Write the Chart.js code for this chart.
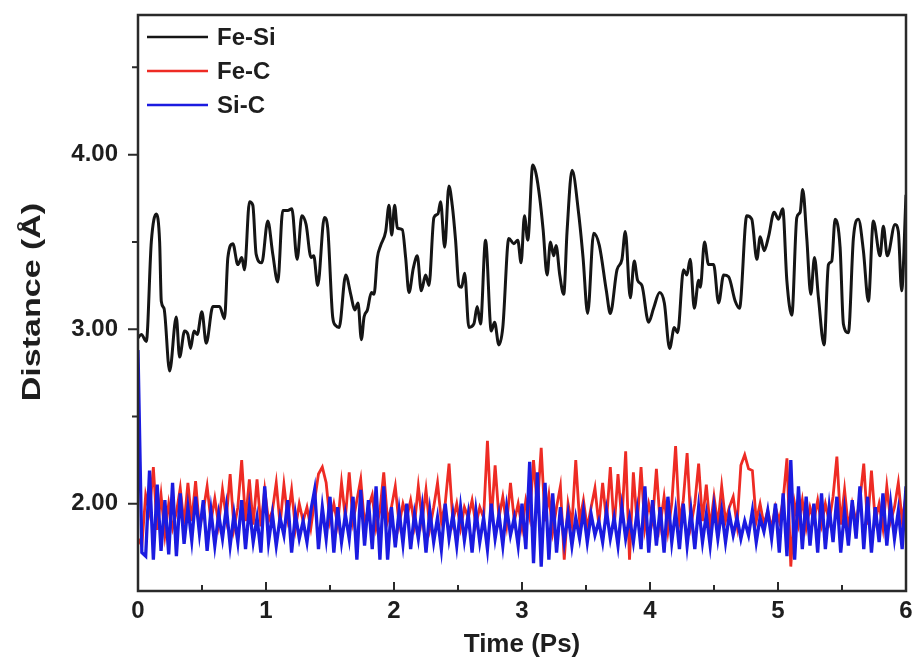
<!DOCTYPE html>
<html>
<head>
<meta charset="utf-8">
<title>Bond distances</title>
<script src="https://cdn.jsdelivr.net/npm/chart.js@4.4.1/dist/chart.umd.min.js"></script>
<style>
  html, body { margin: 0; padding: 0; background: #fff; }
</style>
</head>
<body>
<canvas id="distChart" width="912" height="663"></canvas>
<script>
// Fe-Si distance (ps, angstrom)
var feSiTime = [
  0.000, 0.026, 0.065, 0.104, 0.143, 0.169, 0.182, 0.203, 0.247, 0.299,
  0.325, 0.364, 0.390, 0.411, 0.437, 0.463, 0.499, 0.533, 0.585, 0.637,
  0.676, 0.702, 0.741, 0.780, 0.811, 0.832, 0.871, 0.897, 0.923, 0.967,
  1.014, 1.053, 1.092, 1.131, 1.170, 1.202, 1.243, 1.280, 1.313, 1.352,
  1.373, 1.404, 1.456, 1.482, 1.521, 1.545, 1.571, 1.623, 1.662, 1.693,
  1.719, 1.745, 1.766, 1.792, 1.823, 1.844, 1.870, 1.896, 1.935, 1.961,
  1.982, 2.005, 2.026, 2.065, 2.091, 2.117, 2.151, 2.182, 2.213, 2.247,
  2.273, 2.312, 2.343, 2.364, 2.396, 2.429, 2.455, 2.481, 2.507, 2.528,
  2.552, 2.585, 2.624, 2.650, 2.676, 2.715, 2.760, 2.786, 2.819, 2.850,
  2.897, 2.936, 2.967, 2.993, 3.019, 3.045, 3.084, 3.110, 3.139, 3.165,
  3.196, 3.222, 3.248, 3.266, 3.295, 3.326, 3.352, 3.391, 3.443, 3.477,
  3.513, 3.560, 3.604, 3.659, 3.690, 3.742, 3.781, 3.807, 3.846, 3.877,
  3.903, 3.937, 3.989, 4.028, 4.075, 4.112, 4.153, 4.190, 4.216, 4.262,
  4.288, 4.314, 4.346, 4.380, 4.393, 4.426, 4.457, 4.497, 4.536, 4.575,
  4.614, 4.666, 4.699, 4.756, 4.795, 4.835, 4.861, 4.892, 4.926, 4.970,
  5.004, 5.037, 5.069, 5.108, 5.147, 5.173, 5.193, 5.225, 5.256, 5.285,
  5.316, 5.360, 5.394, 5.420, 5.446, 5.485, 5.511, 5.550, 5.589, 5.628,
  5.667, 5.706, 5.745, 5.797, 5.823, 5.854, 5.914, 5.940, 5.966, 6.000
];
var feSiDist = [
  2.95, 2.97, 2.93, 3.50, 3.66, 3.50, 3.16, 3.12, 2.76, 3.07,
  2.84, 2.99, 2.97, 2.89, 2.99, 2.97, 3.10, 2.92, 3.13, 3.13,
  3.06, 3.41, 3.49, 3.37, 3.41, 3.34, 3.73, 3.71, 3.43, 3.38,
  3.62, 3.43, 3.27, 3.68, 3.68, 3.69, 3.40, 3.65, 3.60, 3.41,
  3.42, 3.25, 3.64, 3.58, 3.07, 3.02, 3.01, 3.31, 3.20, 3.11,
  3.15, 2.94, 3.07, 3.11, 3.21, 3.20, 3.41, 3.48, 3.56, 3.71,
  3.54, 3.71, 3.58, 3.57, 3.41, 3.21, 3.35, 3.42, 3.22, 3.31,
  3.25, 3.64, 3.66, 3.73, 3.47, 3.82, 3.71, 3.51, 3.25, 3.24,
  3.32, 3.01, 3.03, 3.13, 3.03, 3.51, 2.99, 3.04, 2.91, 3.01,
  3.52, 3.49, 3.51, 3.38, 3.65, 3.51, 3.94, 3.89, 3.75, 3.57,
  3.31, 3.50, 3.42, 3.48, 3.31, 3.20, 3.56, 3.91, 3.66, 3.41,
  3.09, 3.55, 3.48, 3.22, 3.09, 3.34, 3.40, 3.56, 3.18, 3.39,
  3.28, 3.25, 3.04, 3.12, 3.21, 3.15, 2.89, 3.01, 2.98, 3.34,
  3.31, 3.40, 3.12, 3.28, 3.24, 3.50, 3.37, 3.37, 3.15, 3.31,
  3.30, 3.16, 3.12, 3.65, 3.63, 3.40, 3.53, 3.45, 3.53, 3.67,
  3.63, 3.69, 3.28, 3.08, 3.64, 3.67, 3.80, 3.52, 3.20, 3.41,
  3.18, 2.91, 3.37, 3.39, 3.63, 3.47, 3.03, 2.98, 3.52, 3.63,
  3.45, 3.16, 3.62, 3.42, 3.59, 3.42, 3.60, 3.56, 3.22, 3.77
];

// Fe-C and Si-C frames share one time base
var bondTime = [
  0.00, 0.03, 0.06, 0.09, 0.12, 0.15, 0.18, 0.21, 0.24, 0.27,
  0.30, 0.33, 0.36, 0.39, 0.42, 0.45, 0.48, 0.51, 0.54, 0.57,
  0.60, 0.63, 0.66, 0.69, 0.72, 0.75, 0.78, 0.81, 0.84, 0.87,
  0.90, 0.93, 0.96, 0.99, 1.02, 1.05, 1.08, 1.11, 1.14, 1.17,
  1.20, 1.23, 1.26, 1.29, 1.32, 1.35, 1.38, 1.41, 1.44, 1.47,
  1.50, 1.53, 1.56, 1.59, 1.62, 1.65, 1.68, 1.71, 1.74, 1.77,
  1.80, 1.83, 1.86, 1.89, 1.92, 1.95, 1.98, 2.01, 2.04, 2.07,
  2.10, 2.13, 2.16, 2.19, 2.22, 2.25, 2.28, 2.31, 2.34, 2.37,
  2.40, 2.43, 2.46, 2.49, 2.52, 2.55, 2.58, 2.61, 2.64, 2.67,
  2.70, 2.73, 2.76, 2.79, 2.82, 2.85, 2.88, 2.91, 2.94, 2.97,
  3.00, 3.03, 3.06, 3.09, 3.12, 3.15, 3.18, 3.21, 3.24, 3.27,
  3.30, 3.33, 3.36, 3.39, 3.42, 3.45, 3.48, 3.51, 3.54, 3.57,
  3.60, 3.63, 3.66, 3.69, 3.72, 3.75, 3.78, 3.81, 3.84, 3.87,
  3.90, 3.93, 3.96, 3.99, 4.02, 4.05, 4.08, 4.11, 4.14, 4.17,
  4.20, 4.23, 4.26, 4.29, 4.32, 4.35, 4.38, 4.41, 4.44, 4.47,
  4.50, 4.53, 4.56, 4.59, 4.62, 4.65, 4.68, 4.71, 4.74, 4.77,
  4.80, 4.83, 4.86, 4.89, 4.92, 4.95, 4.98, 5.01, 5.04, 5.07,
  5.10, 5.13, 5.16, 5.19, 5.22, 5.25, 5.28, 5.31, 5.34, 5.37,
  5.40, 5.43, 5.46, 5.49, 5.52, 5.55, 5.58, 5.61, 5.64, 5.67,
  5.70, 5.73, 5.76, 5.79, 5.82, 5.85, 5.88, 5.91, 5.94, 5.97,
  6.00
];
var feCDist = [
  1.80, 1.76, 2.05, 1.95, 2.21, 1.85, 2.05, 1.82, 2.00, 1.86,
  1.95, 2.09, 1.88, 2.12, 1.90, 2.13, 1.86, 1.96, 2.10, 1.90,
  2.03, 1.88, 2.08, 1.92, 2.17, 1.86, 1.98, 2.25, 1.90, 2.14,
  1.88, 2.14, 1.87, 2.08, 1.90, 1.96, 2.12, 1.88, 2.11, 1.92,
  2.08, 1.86, 2.00, 1.90, 1.98, 1.86, 2.02, 2.17, 2.21, 2.12,
  1.90, 2.00, 1.88, 2.12, 1.92, 2.18, 1.90, 2.02, 2.14, 1.88,
  1.98, 2.05, 1.86, 1.96, 2.18, 1.90, 1.98, 2.10, 1.88, 2.00,
  1.92, 2.02, 1.88, 2.10, 1.90, 2.08, 1.86, 1.98, 2.12, 1.90,
  2.00, 2.23, 1.90, 2.00, 1.86, 1.98, 1.92, 2.02, 1.88, 1.98,
  1.92, 2.36, 1.90, 2.22, 1.92, 2.04, 1.88, 2.12, 1.90, 2.00,
  1.86, 2.02, 1.92, 2.25, 1.98, 2.32, 1.90, 2.05, 1.84, 1.98,
  2.10, 1.68, 2.00, 1.88, 2.25, 1.90, 2.02, 1.86, 1.98, 2.09,
  1.88, 2.12, 1.90, 2.21, 1.86, 2.17, 1.90, 2.30, 1.68, 2.18,
  1.88, 2.21, 1.86, 2.00, 1.90, 2.20, 1.88, 2.04, 1.84, 2.00,
  2.33, 1.90, 2.02, 2.29, 1.88, 2.00, 2.23, 1.90, 2.11, 1.86,
  2.04, 1.88, 2.10, 1.90, 1.98, 2.04, 1.88, 2.22, 2.28, 2.20,
  2.19, 1.90, 2.00, 1.88, 1.96, 1.86, 1.98, 1.90, 2.02, 2.26,
  1.64, 2.00, 1.88, 2.02, 1.86, 1.98, 1.90, 2.02, 1.88, 2.00,
  1.90, 2.04, 2.27, 1.88, 2.08, 1.86, 2.00, 1.90, 2.02, 2.23,
  1.88, 2.19, 1.90, 2.00, 1.86, 2.10, 1.90, 1.98, 2.12, 1.90,
  2.05
];
var siCDist = [
  2.88, 1.72, 1.70, 2.19, 1.68, 2.11, 1.73, 2.02, 1.71, 2.12,
  1.70, 2.06, 1.77, 1.98, 1.79, 2.04, 1.83, 2.02, 1.73, 1.96,
  1.76, 1.94, 1.80, 1.98, 1.76, 1.94, 1.78, 2.02, 1.74, 1.98,
  1.78, 1.92, 1.72, 2.10, 1.78, 1.94, 1.76, 1.92, 1.82, 2.02,
  1.72, 1.94, 1.80, 1.90, 1.78, 1.96, 2.08, 1.74, 1.98, 1.80,
  2.04, 1.72, 1.98, 1.78, 1.94, 1.80, 2.04, 1.68, 2.08, 1.76,
  2.02, 1.74, 2.10, 1.68, 2.10, 1.68, 1.98, 1.75, 1.96, 1.77,
  2.00, 1.74, 1.94, 1.80, 1.98, 1.72, 1.96, 1.78, 1.92, 1.74,
  2.00, 1.80, 1.94, 1.76, 1.98, 1.79, 1.94, 1.72, 1.96, 1.78,
  1.92, 1.74, 2.00, 1.80, 1.94, 1.76, 1.98, 1.82, 1.92, 1.76,
  2.00, 1.74, 2.24, 1.66, 2.18, 1.64, 2.12, 1.68, 2.06, 1.72,
  1.98, 1.78, 1.94, 1.76, 1.92, 1.80, 1.96, 1.78, 1.94, 1.82,
  1.90, 1.78, 1.96, 1.80, 1.92, 1.76, 1.98, 1.80, 1.92, 1.78,
  1.96, 1.74, 2.10, 1.72, 2.02, 1.76, 1.98, 1.72, 2.04, 1.78,
  1.96, 1.74, 2.00, 1.76, 1.96, 1.74, 1.98, 1.78, 1.94, 1.76,
  1.98, 1.80, 1.96, 1.78, 1.94, 1.82, 1.92, 1.80, 1.90, 1.82,
  1.96, 1.78, 1.92, 1.84, 1.96, 1.80, 2.00, 1.72, 2.06, 1.70,
  2.25, 1.68, 2.10, 1.74, 2.04, 1.76, 2.00, 1.72, 2.06, 1.74,
  1.98, 1.78, 2.04, 1.72, 1.96, 1.76, 2.02, 1.80, 2.10, 1.74,
  2.04, 1.72, 1.98, 1.78, 2.06, 1.76, 2.00, 1.80, 1.96, 1.74,
  2.10
];

var xMajorTicks = [0, 1, 2, 3, 4, 5, 6];
var xMinorTicks = [0.5, 1.5, 2.5, 3.5, 4.5, 5.5];
var yMajorTicks = [2, 3, 4];
var yMinorTicks = [2.5, 3.5, 4.5];

var fontFam = "'Liberation Sans', Arial, sans-serif";
var axisColor = '#2a2a2a';
var textColor = '#1e1e1e';

function toPoints(xs, ys) {
  var pts = [];
  for (var i = 0; i < xs.length; i++) pts.push({ x: xs[i], y: ys[i] });
  return pts;
}

// box, tick marks, legend and axis titles
var decorPlugin = {
  id: 'decor',
  afterDatasetsDraw: function (chart) {
    var ctx = chart.ctx, a = chart.chartArea;
    var xs = chart.scales.x, ys = chart.scales.y;
    ctx.save();

    ctx.strokeStyle = axisColor;
    ctx.lineWidth = 2;
    ctx.beginPath();
    xMajorTicks.forEach(function (v) {
      var p = xs.getPixelForValue(v);
      ctx.moveTo(p, a.bottom); ctx.lineTo(p, a.bottom - 9);
    });
    xMinorTicks.forEach(function (v) {
      var p = xs.getPixelForValue(v);
      ctx.moveTo(p, a.bottom); ctx.lineTo(p, a.bottom - 6);
    });
    yMajorTicks.forEach(function (v) {
      var p = ys.getPixelForValue(v);
      ctx.moveTo(a.left, p); ctx.lineTo(a.left - 10, p);
    });
    yMinorTicks.forEach(function (v) {
      var p = ys.getPixelForValue(v);
      ctx.moveTo(a.left, p); ctx.lineTo(a.left - 6, p);
    });
    ctx.stroke();

    ctx.lineWidth = 2.5;
    ctx.strokeRect(a.left, a.top, a.right - a.left, a.bottom - a.top);

    // legend in the upper left corner
    ctx.font = 'bold 24px ' + fontFam;
    ctx.textBaseline = 'middle';
    ctx.textAlign = 'left';
    chart.data.datasets.forEach(function (ds, k) {
      var ly = a.top + 22 + k * 34;
      ctx.strokeStyle = ds.borderColor;
      ctx.lineWidth = 2.5;
      ctx.beginPath();
      ctx.moveTo(a.left + 9, ly); ctx.lineTo(a.left + 70, ly);
      ctx.stroke();
      ctx.fillStyle = textColor;
      ctx.fillText(ds.label, a.left + 79, ly + 1);
    });

    // axis titles
    ctx.fillStyle = textColor;
    ctx.textAlign = 'center';
    ctx.font = 'bold 26px ' + fontFam;
    ctx.fillText('Time (Ps)', (a.left + a.right) / 2, 645);

    ctx.font = 'bold 25px ' + fontFam;
    ctx.translate(33, 302);
    ctx.rotate(-Math.PI / 2);
    ctx.scale(1.36, 1);
    ctx.fillText('Distance (Å)', 0, 0);
    ctx.restore();
  }
};

new Chart(document.getElementById('distChart').getContext('2d'), {
  type: 'line',
  data: {
    datasets: [
      {
        label: 'Fe-Si',
        data: toPoints(feSiTime, feSiDist),
        borderColor: '#151515',
        borderWidth: 3,
        cubicInterpolationMode: 'monotone',
        order: 0
      },
      {
        label: 'Fe-C',
        data: toPoints(bondTime, feCDist),
        borderColor: '#ee2b24',
        borderWidth: 2.8,
        tension: 0,
        order: 2
      },
      {
        label: 'Si-C',
        data: toPoints(bondTime, siCDist),
        borderColor: '#1b1be0',
        borderWidth: 3.3,
        tension: 0,
        order: 1
      }
    ]
  },
  options: {
    responsive: false,
    animation: false,
    layout: { padding: { left: 0, right: 6, top: 15, bottom: 0 } },
    elements: { point: { radius: 0 } },
    plugins: {
      legend: { display: false },
      tooltip: { enabled: false }
    },
    scales: {
      x: {
        type: 'linear',
        min: 0,
        max: 6,
        afterBuildTicks: function (s) {
          s.ticks = xMajorTicks.map(function (v) { return { value: v }; });
        },
        afterFit: function (s) {
          s.height = 72;
          s.paddingLeft = 0;
          s.paddingRight = 0;
        },
        grid: { display: false, drawTicks: false },
        border: { display: false },
        ticks: {
          padding: 6,
          maxRotation: 0,
          color: textColor,
          font: { family: fontFam, size: 24, weight: 'bold' },
          callback: function (v) { return String(v); }
        }
      },
      y: {
        min: 1.5,
        max: 4.8,
        afterBuildTicks: function (s) {
          s.ticks = yMajorTicks.map(function (v) { return { value: v }; });
        },
        afterFit: function (s) {
          s.width = 138;
          s.paddingTop = 0;
          s.paddingBottom = 0;
        },
        grid: { display: false, drawTicks: false },
        border: { display: false },
        ticks: {
          padding: 20,
          color: textColor,
          font: { family: fontFam, size: 24, weight: 'bold' },
          callback: function (v) { return v.toFixed(2); }
        }
      }
    }
  },
  plugins: [decorPlugin]
});
</script>
</body>
</html>
